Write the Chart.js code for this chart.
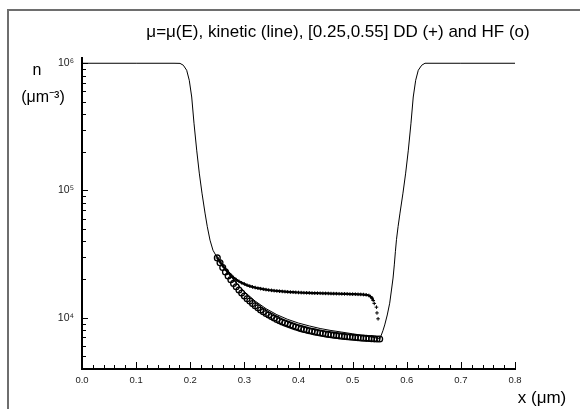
<!DOCTYPE html>
<html>
<head>
<meta charset="utf-8">
<script src="https://cdn.jsdelivr.net/npm/chart.js@4"></script>
<style>
  html, body { margin: 0; padding: 0; background: #fff; }
  #wrap { width: 580px; height: 409px; }
</style>
</head>
<body>
<div id="wrap"><canvas id="profile"></canvas></div>
<script>
// kinetic solution (line)
const kinX = [0.0, 0.1, 0.170, 0.1811, 0.1872, 0.1934, 0.1982, 0.2027, 0.2069, 0.2119, 0.2167, 0.2217, 0.2273, 0.2315, 0.2365, 0.242,
  0.25, 0.26, 0.27, 0.28, 0.29, 0.30, 0.32, 0.34, 0.36, 0.38, 0.40, 0.42, 0.44, 0.46, 0.48, 0.50, 0.52, 0.54, 0.55,
  0.553, 0.556, 0.5593, 0.564, 0.5685, 0.572, 0.5747, 0.577, 0.579, 0.581, 0.584, 0.5875, 0.593, 0.598, 0.6029, 0.6078,
  0.612, 0.6165, 0.6213, 0.6276, 0.6337, 0.70, 0.80];
const kinN = [1e6, 1e6, 1e6, 998000, 965000, 881000, 735000, 543000, 338000, 207500, 136900, 95300, 66400, 51900, 40700, 33900,
  29500, 25550, 22350, 19800, 17750, 16000, 13500, 11770, 10560, 9700, 9070, 8610, 8220, 7930, 7700, 7470, 7250, 6990, 6800,
  7300, 7900, 8770, 10500, 13000, 16800, 20500, 26000, 33000, 41000, 52000, 66400, 95300, 136900, 207500, 338000,
  543000, 735000, 881000, 965000, 1e6, 1e6, 1e6];

// drift-diffusion (+)
const ddX = [0.250, 0.255, 0.260, 0.265, 0.270, 0.275, 0.280, 0.285, 0.290, 0.295,
  0.300, 0.305, 0.310, 0.315, 0.320, 0.325, 0.330, 0.335, 0.340, 0.345,
  0.350, 0.355, 0.360, 0.365, 0.370, 0.375, 0.380, 0.385, 0.390, 0.395,
  0.400, 0.405, 0.410, 0.415, 0.420, 0.425, 0.430, 0.435, 0.440, 0.445,
  0.450, 0.455, 0.460, 0.465, 0.470, 0.475, 0.480, 0.485, 0.490, 0.495,
  0.500, 0.505, 0.510, 0.515, 0.520, 0.525,
  0.530, 0.533, 0.536, 0.538, 0.540, 0.544, 0.545, 0.547];
const ddN = [29500, 27500, 25600, 24000, 22700, 21600, 20700, 19900, 19300, 18800,
  18400, 18000, 17700, 17450, 17250, 17050, 16900, 16750, 16620, 16500,
  16400, 16300, 16220, 16150, 16080, 16020, 15960, 15910, 15860, 15820,
  15780, 15740, 15710, 15680, 15650, 15620, 15600, 15580, 15560, 15540,
  15520, 15500, 15480, 15460, 15440, 15420, 15400, 15380, 15360, 15340,
  15320, 15300, 15270, 15240, 15200, 15130,
  14950, 14650, 14250, 13650, 12950, 12100, 10900, 9800];

// HF (o)
const hfX = [0.250, 0.255, 0.260, 0.265, 0.270, 0.275, 0.280, 0.285, 0.290, 0.295,
  0.300, 0.305, 0.310, 0.315, 0.320, 0.325, 0.330, 0.335, 0.340, 0.345,
  0.350, 0.355, 0.360, 0.365, 0.370, 0.375, 0.380, 0.385, 0.390, 0.395,
  0.400, 0.405, 0.410, 0.415, 0.420, 0.425, 0.430, 0.435, 0.440, 0.445,
  0.450, 0.455, 0.460, 0.465, 0.470, 0.475, 0.480, 0.485, 0.490, 0.495,
  0.500, 0.505, 0.510, 0.515, 0.520, 0.525, 0.530, 0.535, 0.540, 0.545, 0.550];
const hfN = [29500, 27000, 24800, 22900, 21300, 19900, 18600, 17500, 16500, 15600,
  14800, 14100, 13500, 12900, 12400, 11950, 11500, 11150, 10800, 10500,
  10200, 9930, 9690, 9470, 9260, 9070, 8900, 8740, 8590, 8450,
  8320, 8200, 8090, 7990, 7900, 7810, 7730, 7650, 7580, 7510,
  7450, 7390, 7340, 7290, 7240, 7200, 7160, 7120, 7080, 7050,
  7015, 6985, 6955, 6930, 6905, 6880, 6860, 6840, 6820, 6805, 6790];

const xTickLabels = ["0.0", "0.1", "0.2", "0.3", "0.4", "0.5", "0.6", "0.7", "0.8"];
const yDecades = [1e4, 1e5, 1e6];
const yTickLabels = ["10⁴", "10⁵", "10⁶"];

const FONT = "'Liberation Sans', Arial, sans-serif";
// DD markers are packed into a solid trace up to here, sparse after
const ddDenseUntil = 0.538;

function pairs(xs, ys) {
  return xs.map((x, i) => ({ x: x, y: ys[i] }));
}

// frame, inward ticks and the free texts
const decorations = {
  id: "decorations",
  afterDraw(chart) {
    const ctx = chart.ctx;
    const sx = chart.scales.x;
    const sy = chart.scales.y;
    const area = chart.chartArea;
    ctx.save();

    ctx.strokeStyle = "#6e6e6e";
    ctx.lineWidth = 2;
    ctx.beginPath();
    ctx.moveTo(8, 409);
    ctx.lineTo(8, 10);
    ctx.lineTo(580, 10);
    ctx.stroke();

    ctx.strokeStyle = "#000";
    ctx.lineWidth = 1;
    ctx.beginPath();
    for (let i = 0; i <= 40; i++) {
      const px = Math.round(sx.getPixelForValue(i * 0.02)) + 0.5;
      const len = i % 5 === 0 ? 7 : 4;
      ctx.moveTo(px, area.bottom);
      ctx.lineTo(px, area.bottom - len);
    }
    for (let d = 1e3; d <= 1e6; d *= 10) {
      for (let k = 1; k <= 9; k++) {
        const v = k * d;
        if (v < sy.min || v > sy.max) continue;
        const py = Math.round(sy.getPixelForValue(v)) + 0.5;
        ctx.moveTo(area.left, py);
        ctx.lineTo(area.left + (k === 1 ? 6 : 4), py);
      }
    }
    ctx.stroke();

    ctx.fillStyle = "#000";
    ctx.textAlign = "center";
    ctx.textBaseline = "middle";
    ctx.font = "17px " + FONT;
    ctx.fillText("μ=μ(E), kinetic (line), [0.25,0.55] DD (+) and HF (o)", 338, 32);
    ctx.font = "16px " + FONT;
    ctx.fillText("n", 37, 71);
    ctx.fillText("(μm⁻³)", 43, 98);
    ctx.font = "17px " + FONT;
    ctx.fillText("x (μm)", 542, 398);
    ctx.restore();
  }
};

new Chart(document.getElementById("profile"), {
  type: "scatter",
  data: {
    datasets: [
      {
        label: "kinetic",
        data: pairs(kinX, kinN),
        showLine: true,
        borderColor: "#000",
        borderWidth: 1,
        pointRadius: 0,
        tension: 0,
      },
      {
        label: "DD",
        data: pairs(ddX, ddN),
        showLine: true,
        borderWidth: 2.2,
        segment: {
          borderColor: (c) => (c.p1.parsed.x > ddDenseUntil ? "rgba(0,0,0,0)" : "#000"),
        },
        pointStyle: "cross",
        pointRadius: 1.8,
        pointBorderWidth: 1,
        pointBorderColor: "#000",
        borderColor: "#000",
      },
      {
        label: "HF",
        data: pairs(hfX, hfN),
        pointStyle: "circle",
        pointRadius: 2.9,
        borderColor: "#000",
        backgroundColor: "rgba(0,0,0,0)",
        borderWidth: 1.3,
      },
    ],
  },
  options: {
    responsive: true,
    maintainAspectRatio: false,
    animation: false,
    devicePixelRatio: 1,
    layout: { padding: { left: 0, top: 58, right: 65, bottom: 0 } },
    plugins: {
      legend: { display: false },
      tooltip: { enabled: false },
    },
    scales: {
      x: {
        type: "linear",
        min: 0,
        max: 0.8,
        afterBuildTicks: (scale) => {
          scale.ticks = xTickLabels.map((l) => ({ value: parseFloat(l) }));
        },
        afterFit: (scale) => {
          scale.height = 40;
        },
        ticks: {
          callback: (v, i) => xTickLabels[i],
          font: { family: FONT, size: 9.5 },
          color: "#222",
          padding: 6,
          maxRotation: 0,
        },
        grid: { drawOnChartArea: false, drawTicks: false },
        border: { color: "#000", width: 2 },
      },
      y: {
        type: "logarithmic",
        min: 3950,
        max: 1.1e6,
        afterBuildTicks: (scale) => {
          scale.ticks = yDecades.map((v) => ({ value: v }));
        },
        afterFit: (scale) => {
          scale.width = 82;
        },
        ticks: {
          callback: (v) => {
            const i = yDecades.indexOf(v);
            return i >= 0 ? yTickLabels[i] : "";
          },
          font: { family: FONT, size: 10.5 },
          color: "#222",
          padding: 8,
        },
        grid: { drawOnChartArea: false, drawTicks: false },
        border: { color: "#000", width: 2 },
      },
    },
  },
  plugins: [decorations],
});
</script>
</body>
</html>
